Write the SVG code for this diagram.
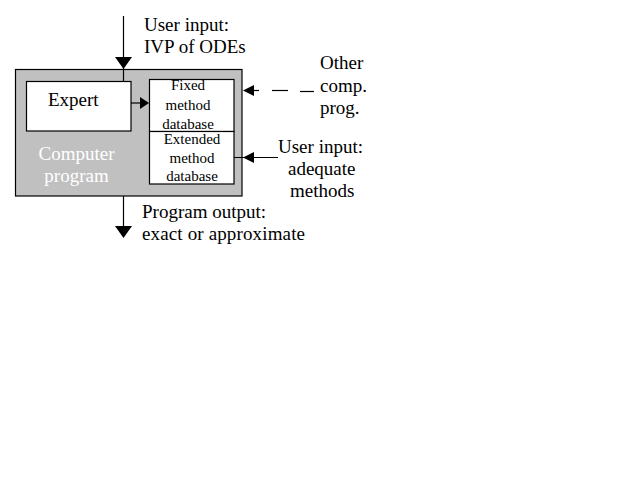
<svg xmlns="http://www.w3.org/2000/svg" width="640" height="480" viewBox="0 0 640 480">
<style>
text{font-family:"Liberation Serif","Times New Roman",serif;fill:#000}
.big{font-size:19px}
.small{font-size:15px}
.mid{text-anchor:middle}
.white{fill:#fff}
.ln{stroke:#000;stroke-width:1.2;fill:none}
.box{fill:#fff;stroke:#000;stroke-width:1.2}
.ah{fill:#000;stroke:none}
</style>
<rect width="640" height="480" fill="#fff"/>
<g id="computer-program">
<rect x="15.5" y="69.5" width="226.5" height="126.5" fill="#c0c0c0" stroke="#000" stroke-width="1.2"/>
<text class="big white mid" x="76.5" y="160">Computer</text>
<text class="big white mid" x="76.5" y="182">program</text>
</g>
<g id="expert">
<rect class="box" x="26.5" y="81.5" width="104.5" height="49.5"/>
<text class="big" x="48" y="106">Expert</text>
</g>
<g id="fixed-db">
<rect class="box" x="149.5" y="79.5" width="84.5" height="52"/>
<text class="small mid" x="188" y="90">Fixed</text>
<text class="small mid" x="188" y="110">method</text>
<text class="small mid" x="188" y="129">database</text>
</g>
<g id="extended-db">
<rect class="box" x="149.5" y="131.5" width="84.5" height="52.5"/>
<text class="small mid" x="192" y="144">Extended</text>
<text class="small mid" x="192" y="162.5">method</text>
<text class="small mid" x="192" y="181">database</text>
</g>
<g id="labels">
<text class="big" x="144" y="31">User input:</text>
<text class="big" x="144" y="53">IVP of ODEs</text>
<text class="big" x="320" y="69">Other</text>
<text class="big" x="320" y="92">comp.</text>
<text class="big" x="320" y="114">prog.</text>
<text class="big" x="278" y="153">User input:</text>
<text class="big" x="288" y="175">adequate</text>
<text class="big" x="290" y="197">methods</text>
<text class="big" x="142" y="218">Program output:</text>
<text class="big" x="142" y="240" textLength="163">exact or approximate</text>
</g>
<g id="connectors">
<line class="ln" x1="123.5" y1="16" x2="123.5" y2="81"/>
<polygon class="ah" points="115,57 132,57 123.5,69"/>
<line class="ln" x1="131" y1="103" x2="142" y2="103"/>
<polygon class="ah" points="140,97 140,109 149,103"/>
<line class="ln" x1="123.5" y1="196" x2="123.5" y2="228"/>
<polygon class="ah" points="115,226 132,226 123.5,238"/>
<polygon class="ah" points="254,85 254,96 243,90.5"/>
<line class="ln" x1="253" y1="90.5" x2="259" y2="90.5"/>
<line class="ln" x1="272" y1="90.5" x2="288" y2="90.5"/>
<line class="ln" x1="300" y1="91.5" x2="314" y2="91.5"/>
<line class="ln" x1="234" y1="157.5" x2="278" y2="157.5"/>
<polygon class="ah" points="254,152 254,163 243,157.5"/>
</g>
</svg>
